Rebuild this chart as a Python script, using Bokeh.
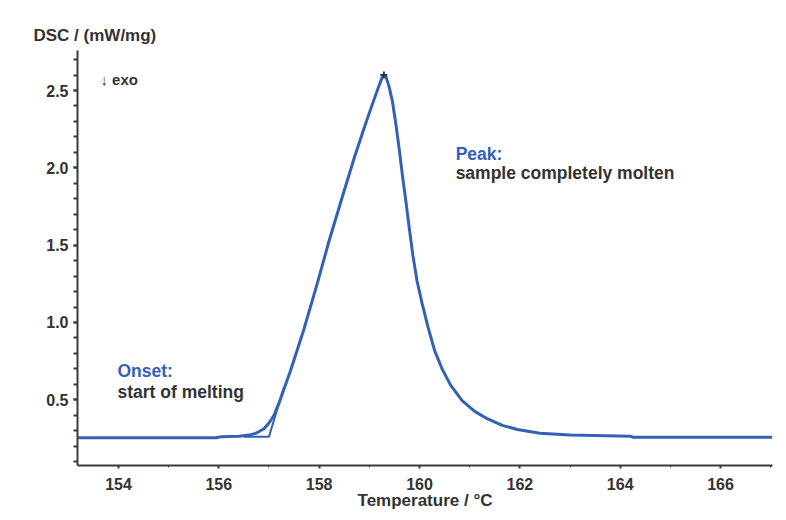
from bokeh.plotting import figure
from bokeh.models import Range1d, Label, SingleIntervalTicker, NumeralTickFormatter, ColumnDataSource
from bokeh.embed import file_html
from bokeh.resources import INLINE

# ---- data ----
temperature_c = [153.18, 155.95, 156.05, 156.40, 156.60, 156.75, 156.90, 157.00, 157.10,
                 157.20, 157.30, 157.43, 157.69, 157.96, 158.20, 158.45, 158.70, 158.92,
                 159.07, 159.18, 159.25, 159.29, 159.33, 159.39, 159.46, 159.53, 159.60,
                 159.66, 159.73, 159.80, 159.87, 159.95, 160.05, 160.17, 160.30, 160.45,
                 160.62, 160.85, 161.10, 161.35, 161.65, 161.95, 162.40, 163.00, 164.20,
                 164.25, 167.03]
dsc_mw_mg = [0.255, 0.255, 0.262, 0.264, 0.272, 0.285, 0.313, 0.350, 0.400,
             0.480, 0.570, 0.690, 0.950, 1.250, 1.530, 1.800, 2.065, 2.280,
             2.420, 2.520, 2.580, 2.600, 2.590, 2.530, 2.430, 2.280, 2.110,
             1.950, 1.780, 1.600, 1.430, 1.270, 1.125, 0.970, 0.820, 0.700,
             0.595, 0.495, 0.425, 0.378, 0.335, 0.308, 0.284, 0.272, 0.265,
             0.258, 0.258]

# onset construction: extrapolated baseline + tangent
tangent_t = [156.50, 157.00, 157.30]
tangent_v = [0.262, 0.262, 0.585]

peak_t = [159.29]
peak_v = [2.600]

x_ticks_interval = 2
y_ticks_interval = 0.5

BLUE = "#3361b5"
DARK = "#333333"
FONT = "Liberation Sans"

p = figure(width=778, height=512, output_backend="svg", toolbar_location=None,
           x_range=Range1d(153.183, 167.036), y_range=Range1d(0.0753, 2.7587),
           min_border_left=77, min_border_right=6, min_border_top=50, min_border_bottom=45)
p.outline_line_color = None
p.grid.visible = False
p.background_fill_color = "white"
p.border_fill_color = "white"

p.title.text = "DSC / (mW/mg)"
p.title.align = "left"
p.title.offset = -44
p.title.text_font = FONT
p.title.text_font_style = "bold"
p.title.text_font_size = "17px"
p.title.text_color = DARK
p.title.standoff = 12

src = ColumnDataSource(dict(t=temperature_c, v=dsc_mw_mg))
p.line("t", "v", source=src, line_color=BLUE, line_width=3, line_join="round")
p.line(tangent_t, tangent_v, line_color=BLUE, line_width=2)
p.scatter(peak_t, peak_v, marker="cross", size=7, line_color=DARK, line_width=2)

# axes
xa = p.xaxis[0]
xa.ticker = SingleIntervalTicker(interval=x_ticks_interval, num_minor_ticks=2)
xa.axis_line_color = "#3a3a3a"
xa.axis_line_width = 2
xa.major_tick_line_color = "#3a3a3a"
xa.major_tick_line_width = 2
xa.major_tick_out = 3
xa.major_tick_in = 0
xa.minor_tick_line_color = "#3a3a3a"
xa.minor_tick_out = 2
xa.minor_tick_in = 0
xa.major_label_text_font = FONT
xa.major_label_text_font_style = "bold"
xa.major_label_text_font_size = "16px"
xa.major_label_text_color = DARK
xa.major_label_standoff = 9
xa.axis_label = "Temperature / °C"
xa.axis_label_text_font = FONT
xa.axis_label_text_font_style = "bold"
xa.axis_label_text_font_size = "17px"
xa.axis_label_text_color = DARK
xa.axis_label_standoff = -2

ya = p.yaxis[0]
ya.ticker = SingleIntervalTicker(interval=y_ticks_interval, num_minor_ticks=5)
ya.formatter = NumeralTickFormatter(format="0.0")
ya.axis_line_color = "#3a3a3a"
ya.axis_line_width = 2
ya.major_tick_line_color = "#3a3a3a"
ya.major_tick_line_width = 2
ya.major_tick_out = 4
ya.major_tick_in = 0
ya.minor_tick_line_color = "#3a3a3a"
ya.minor_tick_line_width = 2
ya.minor_tick_out = 4
ya.minor_tick_in = 0
ya.major_label_text_font = FONT
ya.major_label_text_font_style = "bold"
ya.major_label_text_font_size = "16px"
ya.major_label_text_color = DARK
ya.major_label_standoff = 5

def lab(x, y, text, color, size="17.5px"):
    p.add_layout(Label(x=x, y=y, text=text, text_color=color, text_font=FONT,
                       text_font_style="bold", text_font_size=size,
                       text_baseline="alphabetic", text_align="left"))

lab(153.64, 2.572, "\u2193 exo", DARK, "15px")
lab(153.98, 0.688, "Onset:", BLUE)
lab(153.98, 0.553, "start of melting", DARK)
lab(160.72, 2.091, "Peak:", BLUE)
lab(160.72, 1.968, "sample completely molten", DARK)

open("out.html", "w").write(file_html(p, INLINE))
